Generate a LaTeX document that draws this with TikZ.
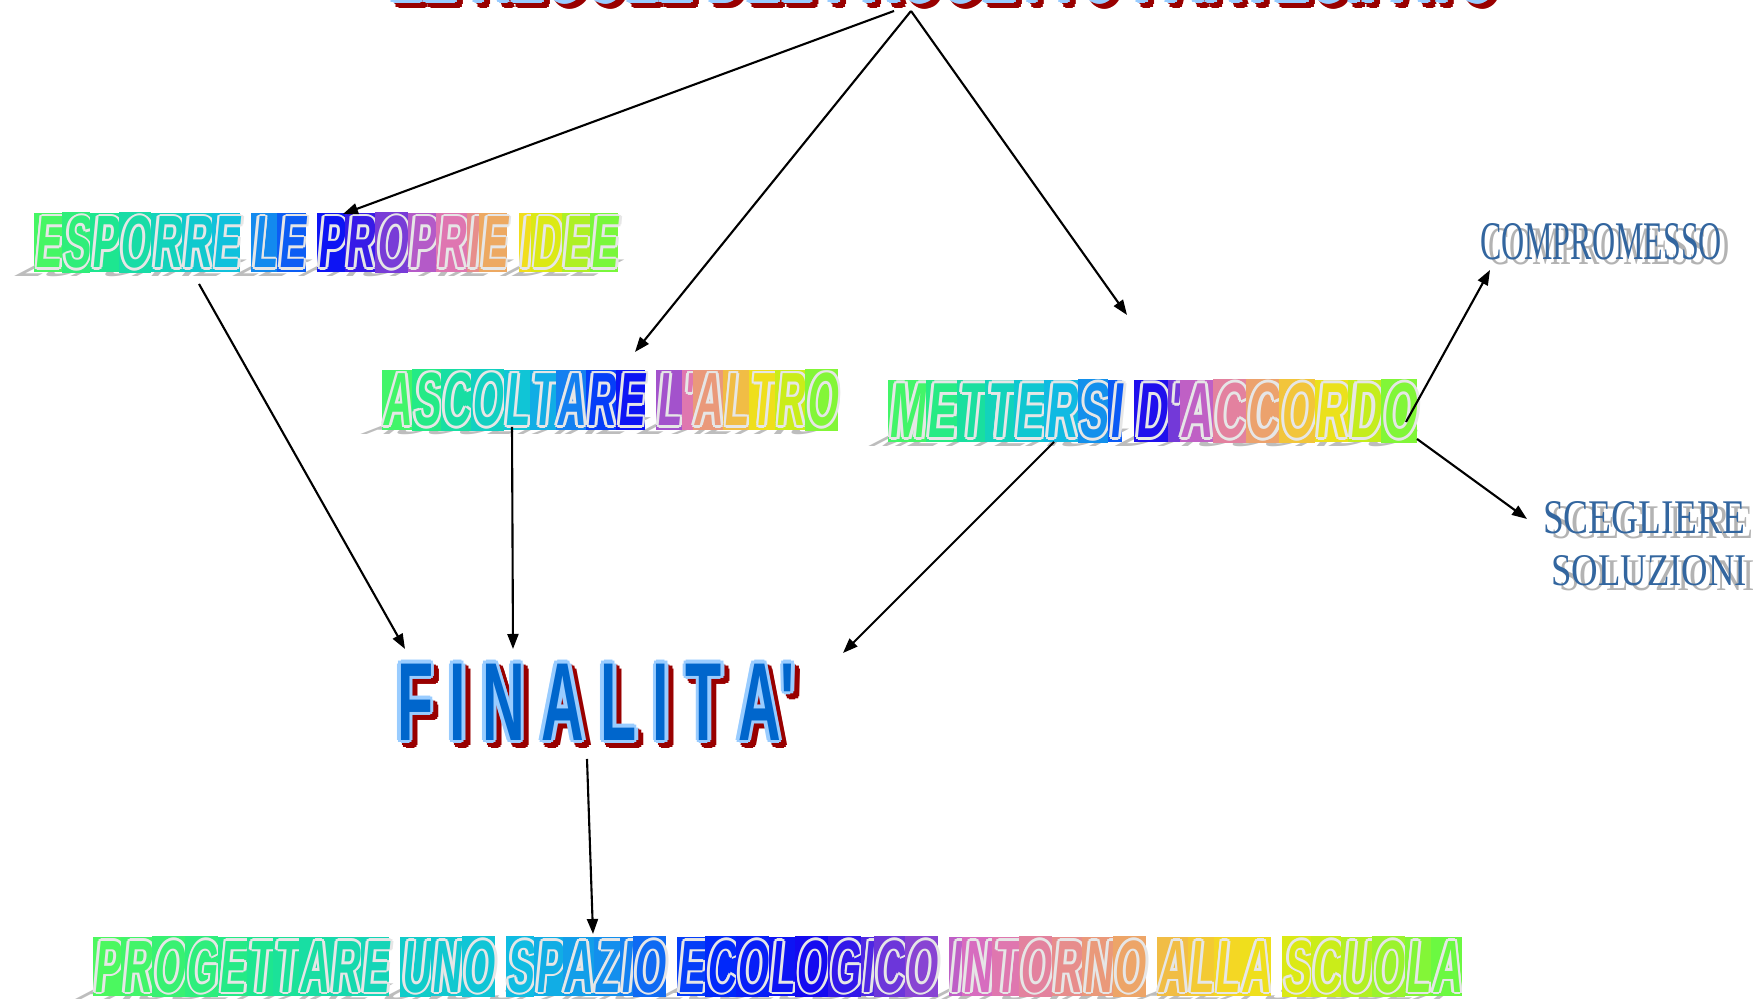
\documentclass[tikz,border=0pt]{standalone}
\usepackage{fontspec}
\usepackage{graphicx}
\usetikzlibrary{arrows.meta,calc}
\setmainfont{Liberation Sans}
\newfontfamily\wafont{Liberation Sans}[FakeSlant=0.18]
\newfontfamily\wafontup{Liberation Sans}
\newfontfamily\serifc{Liberation Serif}
\definecolor{wablue}{HTML}{0066CC}
\definecolor{wablueol}{HTML}{99CCFF}
\definecolor{wared}{HTML}{990000}
\definecolor{olgray}{HTML}{E6E6E6}
\definecolor{shgray}{HTML}{BDBDBD}
\definecolor{cmpblue}{HTML}{33669F}
\definecolor{cmpsh}{HTML}{B3B3B3}
% rainbow gradient stops: index, position, RGB
\newcommand\rbstop[3]{\definecolor{rbc#1}{RGB}{#3}\expandafter\def\csname rbp#1\endcsname{#2}}
\rbstop{0}{0}{80,250,90}
\rbstop{1}{0.10}{30,232,140}
\rbstop{2}{0.22}{16,205,200}
\rbstop{3}{0.30}{16,190,225}
\rbstop{4}{0.38}{20,130,240}
\rbstop{5}{0.46}{0,40,250}
\rbstop{6}{0.52}{20,10,240}
\rbstop{7}{0.60}{140,70,210}
\rbstop{8}{0.66}{220,110,190}
\rbstop{9}{0.72}{232,144,136}
\rbstop{10}{0.78}{240,180,80}
\rbstop{11}{0.84}{245,220,30}
\rbstop{12}{0.90}{215,235,20}
\rbstop{13}{1.00}{95,250,70}
\newcounter{rbi}
% outline: color, horizontal offset, vertical offset, text
\newcommand\ctr[4]{%
\rlap{\kern#2\textcolor{#1}{#4}}%
\rlap{\kern-#2\textcolor{#1}{#4}}%
\rlap{\raisebox{#3}{\textcolor{#1}{#4}}}%
\rlap{\raisebox{-#3}{\textcolor{#1}{#4}}}%
\rlap{\kern.7\dimexpr#2\relax\raisebox{.7\dimexpr#3\relax}{\textcolor{#1}{#4}}}%
\rlap{\kern-.7\dimexpr#2\relax\raisebox{.7\dimexpr#3\relax}{\textcolor{#1}{#4}}}%
\rlap{\kern.7\dimexpr#2\relax\raisebox{-.7\dimexpr#3\relax}{\textcolor{#1}{#4}}}%
\rlap{\kern-.7\dimexpr#2\relax\raisebox{-.7\dimexpr#3\relax}{\textcolor{#1}{#4}}}}
\newcommand\wablk[5]{\ctr{#2}{#3}{#4}{#5}\textcolor{#1}{#5}}
\newcommand\rbset[1]{\gdef\rbN{#1}\setcounter{rbi}{0}}
\newcommand\rbletter[1]{%
 \edef\rbidx{\arabic{rbi}}%
 \pgfmathsetmacro\rbp{(\rbidx-0.5)/\rbN}%
 \gdef\rbseg{1}\gdef\rbt{0}%
 \foreach \k in {1,...,13}{%
   \edef\km{\the\numexpr\k-1\relax}%
   \edef\rblo{\csname rbp\km\endcsname}\edef\rbhi{\csname rbp\k\endcsname}%
   \pgfmathparse{(\rbp>=\rblo && \rbp<=\rbhi) ? 1 : 0}%
   \ifdim\pgfmathresult pt>0.5pt
     \pgfmathtruncatemacro\rbtt{100*(\rbp-\rblo)/(\rbhi-\rblo)}%
     \xdef\rbseg{\k}\xdef\rbt{\rbtt}%
   \fi}%
 \edef\rbsegm{\the\numexpr\rbseg-1\relax}%
 \colorlet{rtmp}{rbc\rbseg!\rbt!rbc\rbsegm}%
 {\fboxsep=0.4pt\colorbox{rtmp}{\ctr{olgray}{1.4pt}{0.75pt}{#1}\textcolor{rtmp}{#1}}}}
\newcommand\rbword[1]{\foreach \ch in {#1}{\stepcounter{rbi}\rbletter{\ch}}}
\newcommand\rbsp{\stepcounter{rbi}\ }
\newcommand\rbtext[4]{\rbset{#3}\resizebox{#1}{#2}{\fontsize{20}{24}\wafont\bfseries #4}}
\newcommand\rbshadow[6]{%
 \begin{scope}[shift={({#1-23},{#2-4})},xslant=1.6,yscale=0.3]
 \node[inner sep=0pt,outer sep=0pt,anchor=south west,transform shape] (#6) at (0,0)
   {\resizebox{#3}{#4}{\fontsize{20}{24}\wafont\bfseries\color{shgray}#5}};
 \end{scope}}
\newcommand\scetxt[1]{\vbox{\offinterlineskip
 \hbox to 20.4mm{\resizebox{20.2mm}{3.2mm}{\serifc\color{#1}SCEGLIERE}\hss}
 \vskip2.1mm
 \hbox to 20.4mm{\kern0.8mm\resizebox{19.6mm}{3.0mm}{\serifc\color{#1}SOLUZIONI}\hss}}}
\begin{document}
\begin{tikzpicture}[x=0.1mm,y=0.1mm,
 arr/.style={line width=0.6pt,-{Triangle[length=1.5mm,width=1.1mm]}},
 wa/.style={inner sep=0pt,outer sep=0pt,anchor=south west}]
\useasboundingbox (0,0) rectangle (1763,999);

% title (mostly above the page)
\node[wa] (title-sh) at (395,990) {\resizebox{110.8mm}{7mm}{\fontsize{28}{32}\wafontup\bfseries\wablk{wared}{wared}{1.8pt}{1pt}{LE REGOLE DEL PROGETTO PARTECIPATO}}};
\node[wa] (title) at (390,995) {\resizebox{110.8mm}{7mm}{\fontsize{28}{32}\wafontup\bfseries\wablk{wablue}{wablueol}{1.8pt}{1pt}{LE REGOLE DEL PROGETTO PARTECIPATO}}};

% shadows of the rainbow texts
\rbshadow{34}{726}{58.4mm}{5.6mm}{ESPORRE LE PROPRIE IDEE}{esp-sh}
\rbshadow{382}{568}{45.6mm}{5.7mm}{ASCOLTARE L\textquotesingle ALTRO}{asc-sh}
\rbshadow{888}{556}{52.9mm}{5.9mm}{METTERSI D\textquotesingle ACCORDO}{met-sh}
\rbshadow{93}{2}{136.9mm}{5.6mm}{PROGETTARE UNO SPAZIO ECOLOGICO INTORNO ALLA SCUOLA}{prog-sh}

% rainbow texts
\node[wa] (esp) at (34,726) {\rbtext{58.4mm}{5.6mm}{23}{\rbword{E,S,P,O,R,R,E}\rbsp\rbword{L,E}\rbsp\rbword{P,R,O,P,R,I,E}\rbsp\rbword{I,D,E,E}}};
\node[wa] (asc) at (382,568) {\rbtext{45.6mm}{5.7mm}{17}{\rbword{A,S,C,O,L,T,A,R,E}\rbsp\rbword{L,\textquotesingle,A,L,T,R,O}}};
\node[wa] (met) at (888,556) {\rbtext{52.9mm}{5.9mm}{18}{\rbword{M,E,T,T,E,R,S,I}\rbsp\rbword{D,\textquotesingle,A,C,C,O,R,D,O}}};
\node[wa] (prog) at (93,2) {\rbtext{136.9mm}{5.6mm}{51}{\rbword{P,R,O,G,E,T,T,A,R,E}\rbsp\rbword{U,N,O}\rbsp\rbword{S,P,A,Z,I,O}\rbsp\rbword{E,C,O,L,O,G,I,C,O}\rbsp\rbword{I,N,T,O,R,N,O}\rbsp\rbword{A,L,L,A}\rbsp\rbword{S,C,U,O,L,A}}};

% FINALITA'
\node[wa] (fin-sh) at (402,250) {\resizebox{39.8mm}{8mm}{\fontsize{31}{36}\wafontup\bfseries\wablk{wared}{wared}{1.9pt}{1pt}{F I N A L I T A\textquotesingle}}};
\node[wa] (fin) at (397,255) {\resizebox{39.8mm}{8mm}{\fontsize{31}{36}\wafontup\bfseries\wablk{wablue}{wablueol}{1.9pt}{1pt}{F I N A L I T A\textquotesingle}}};

% right-hand labels
\node[wa] (comp-sh) at (1488,734) {\resizebox{24.2mm}{3.6mm}{\serifc\color{cmpsh}COMPROMESSO}};
\node[wa] (comp) at (1480,739) {\resizebox{24.2mm}{3.6mm}{\serifc\color{cmpblue}COMPROMESSO}};
\node[wa,anchor=north west] (sce-sh) at (1551,492) {\scetxt{cmpsh}};
\node[wa,anchor=north west] (sce) at (1543,497) {\scetxt{cmpblue}};

% connectors
\draw[arr] ($(title.south west)+(504,-7)$) -- ($(esp.south west)+(309,59)$);
\draw[arr] ($(title.south west)+(521,-7)$) -- ($(asc.south west)+(253,79)$);
\draw[arr] ($(title.south west)+(521,-7)$) -- ($(met.south west)+(239,128)$);
\draw[arr] ($(esp.south west)+(165,-11)$) -- ($(fin.south west)+(8,95)$);
\draw[arr] ($(asc.south west)+(130,4)$) -- ($(fin.south west)+(116,95)$);
\draw[arr] ($(met.south west)+(166,1)$) -- ($(fin.south west)+(446,91)$);
\draw[arr] ($(met.south west)+(518,21)$) -- ($(comp.south west)+(10,-10)$);
\draw[arr] ($(met.south west)+(529,4)$) -- ($(sce.north west)+(-16,-17)$);
\draw[arr] ($(fin.south west)+(190,-15)$) -- ($(prog.south west)+(500,63)$);
\end{tikzpicture}
\end{document}
